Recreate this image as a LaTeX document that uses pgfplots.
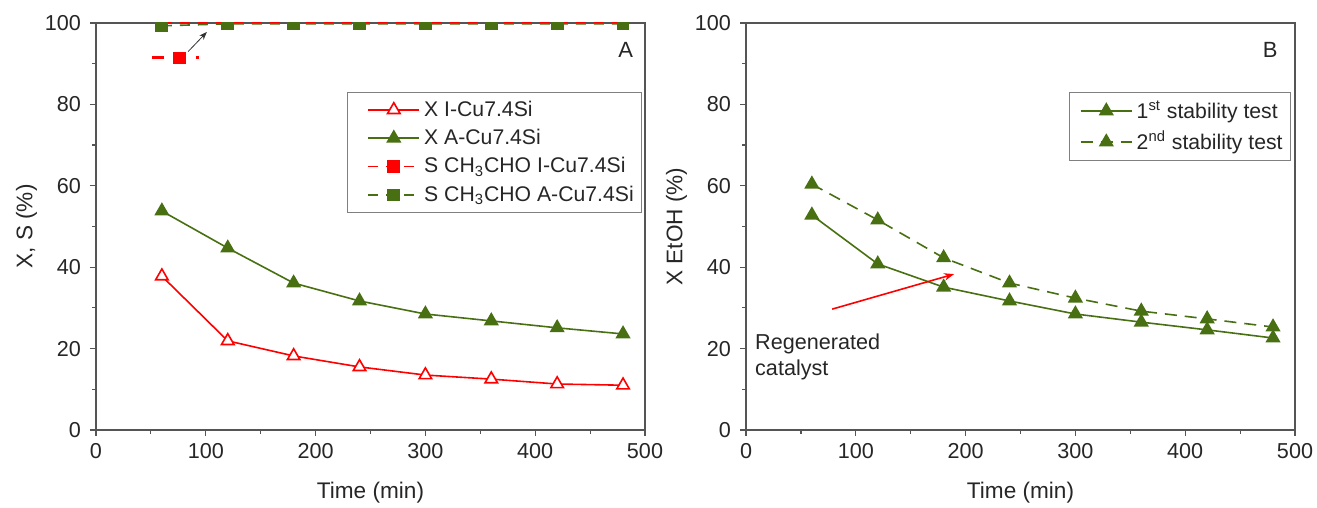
\documentclass[border=0pt]{standalone}
\usepackage{fontspec}
\setmainfont{Liberation Sans}
\usepackage{pgfplots}
\pgfplotsset{compat=1.18}
\usetikzlibrary{arrows.meta}

\definecolor{olv}{RGB}{72,112,18}
\definecolor{axgray}{RGB}{85,85,85}

\pgfplotsset{
  panel/.style={
    width=274.5pt, height=203.5pt, scale only axis,
    xmin=0, xmax=500, ymin=0, ymax=100,
    xtick={0,100,...,500}, ytick={0,20,...,100},
    minor xtick={50,150,...,450}, minor ytick={10,30,...,90},
    tick align=outside, tick pos=left,
    major tick length=3pt, minor tick length=1.8pt,
    axis line style={axgray, line width=0.7pt},
    every tick/.style={axgray, line width=0.6pt},
    /pgf/number format/assume math mode=true,
    tick label style={font=\fontsize{10.8}{12}\selectfont, text=black!85},
    yticklabel style={xshift=-1pt},
    label style={font=\fontsize{11.3}{13}\selectfont, text=black!85},
    xlabel={Time (min)}, xlabel shift=5pt, ylabel shift=-3pt,
    legend style={font=\fontsize{10.6}{12}\selectfont, draw=gray, line width=0.5pt,
      inner sep=2pt, row sep=1pt, text=black!85},
    legend cell align=left,
  },
  limg/.style={legend image code/.code={%
      \path (-#1,0cm);
      \draw[mark repeat=2,mark phase=2] plot coordinates {(0cm,0cm)(0.45cm,0cm)(0.9cm,0cm)};}},
  xser/.style={line width=0.8pt, mark=triangle*, mark size=3.6pt},
}

\begin{document}
\begin{tikzpicture}
\useasboundingbox (-48pt,-39pt) rectangle (610.5pt,215pt);

% panel A
\begin{axis}[panel, limg=8pt, at={(0,0)}, ylabel={X, S (\%)}, clip marker paths=true,
  legend style={at={(0.995,0.83)}, anchor=north east}]
\addplot[red, xser, mark options={fill=white, solid}] coordinates {
 (60,37.8) (120,21.9) (180,18.2) (240,15.5) (300,13.5) (360,12.5) (420,11.3) (480,11.0)};
\addlegendentry{X I-Cu7.4Si}
\addplot[olv, xser, mark options={fill=olv, solid}] coordinates {
 (60,53.8) (120,44.7) (180,36.1) (240,31.7) (300,28.5) (360,26.8) (420,25.1) (480,23.6)};
\addlegendentry{X A-Cu7.4Si}
\addplot[red, line width=0.8pt, dash pattern=on 5pt off 4pt, mark=square*, mark size=2.8pt,
  mark options={solid}] coordinates {
 (60,100) (120,100) (180,100) (240,100) (300,100) (360,100) (420,100) (480,100)};
\addlegendentry{S CH\textsubscript{3}CHO I-Cu7.4Si}
\addplot[olv, line width=0.8pt, dash pattern=on 5pt off 4pt, mark=square*, mark size=2.8pt,
  mark options={solid}] coordinates {
 (60,99.3) (120,99.8) (180,99.8) (240,99.8) (300,99.8) (360,99.8) (420,99.8) (480,99.8)};
\addlegendentry{S CH\textsubscript{3}CHO A-Cu7.4Si}
% marker for the hidden I-Cu7.4Si selectivity
\addplot[red, line width=1.4pt, dash pattern=on 6pt off 5pt, forget plot] coordinates {(51,91.5) (94,91.5)};
\addplot[red, only marks, mark=square*, mark size=2.8pt, forget plot] coordinates {(76,91.5)};
\draw[-{Stealth[length=4pt]}, black!80, line width=0.4pt] (axis cs:84,93) -- (axis cs:101,97.8);
\node[font=\fontsize{11}{12}\selectfont, text=black!85] at (rel axis cs:0.965,0.935) {A};
\end{axis}

% panel B
\begin{axis}[panel, limg=3pt, at={(325pt,0)}, ylabel={X EtOH (\%)},
  legend style={at={(0.993,0.83)}, anchor=north east}]
\addplot[olv, xser, mark options={fill=olv, solid}] coordinates {
 (60,52.8) (120,40.8) (180,35.1) (240,31.7) (300,28.5) (360,26.5) (420,24.6) (480,22.6)};
\addlegendentry{1\textsuperscript{st} stability test}
\addplot[olv, xser, dash pattern=on 6pt off 4pt, mark options={fill=olv, solid}] coordinates {
 (60,60.4) (120,51.6) (180,42.3) (240,36.1) (300,32.4) (360,29.2) (420,27.3) (480,25.3)};
\addlegendentry{2\textsuperscript{nd} stability test}
\draw[-{Stealth[length=5pt]}, red, line width=0.8pt] (axis cs:78.5,29.7) -- (axis cs:189.5,38.3);
\node[anchor=north west, align=left, inner sep=0pt, font=\fontsize{10.8}{13}\selectfont, text=black!85]
  at (axis cs:8,23.8) {Regenerated\\catalyst};
\node[font=\fontsize{11}{12}\selectfont, text=black!85] at (rel axis cs:0.955,0.935) {B};
\end{axis}
\end{tikzpicture}
\end{document}
